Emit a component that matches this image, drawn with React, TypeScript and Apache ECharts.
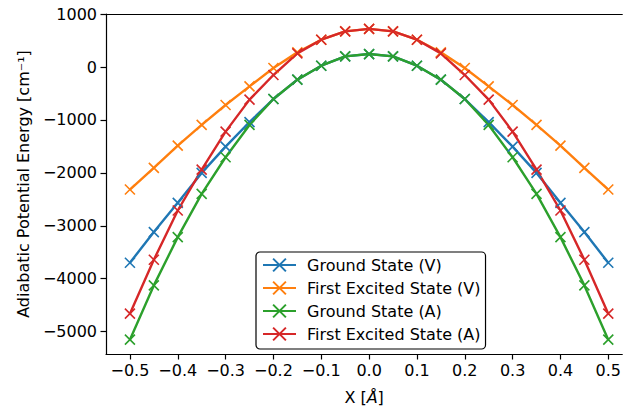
import React, { useEffect, useRef } from "react";
import * as echarts from "echarts";

const xValues = [-0.5, -0.45, -0.4, -0.35, -0.3, -0.25, -0.2, -0.15, -0.1, -0.05, 0, 0.05, 0.1, 0.15, 0.2, 0.25, 0.3, 0.35, 0.4, 0.45, 0.5];
const groundV = [-3698, -3119, -2566, -2000, -1503, -1040, -604, -239, 25, 201, 245, 201, 25, -239, -604, -1040, -1503, -2000, -2566, -3119, -3698];
const excitedV = [-2315, -1906, -1485, -1094, -717, -365, -19, 277, 516, 673, 720, 673, 516, 277, -19, -365, -717, -1094, -1485, -1906, -2315];
const groundA = [-5151, -4126, -3214, -2396, -1704, -1094, -604, -239, 25, 201, 245, 201, 25, -239, -604, -1094, -1704, -2396, -3214, -4126, -5151];
const excitedA = [-4660, -3642, -2711, -1938, -1220, -616, -151, 258, 516, 673, 720, 673, 516, 258, -151, -616, -1220, -1938, -2711, -3642, -4660];
const seriesNames = ["Ground State (V)", "First Excited State (V)", "Ground State (A)", "First Excited State (A)"];
const seriesColors = ["#1f77b4", "#ff7f0e", "#2ca02c", "#d62728"];
const xTicks = [-0.5, -0.4, -0.3, -0.2, -0.1, 0, 0.1, 0.2, 0.3, 0.4, 0.5];
const yTicks = [-5000, -4000, -3000, -2000, -1000, 0, 1000];

const FONT = "DejaVu Sans";
const FS = 16;
const X_MARK = "path://M0,0L10,10M10,0L0,10";
const X_MIN = -0.55;
const X_MAX = 0.5292;

const minus = (s: string) => s.replace("-", "\u2212");

export default function App() {
  const ref = useRef<HTMLDivElement>(null);
  useEffect(() => {
    if (!ref.current) return;
    const chart = echarts.init(ref.current, undefined, { renderer: "svg" });
    const all = [groundV, excitedV, groundA, excitedA];
    chart.setOption({
      animation: false,
      backgroundColor: "#ffffff",
      grid: {
        left: 106,
        top: 14,
        right: 0,
        bottom: 54,
        show: false,
        containLabel: false,
      },
      xAxis: [
        {
          type: "value",
          min: X_MIN,
          max: X_MAX,
          name: "X [{i|Å}]",
          nameLocation: "middle",
          nameGap: 35,
          nameTextStyle: {
            fontFamily: FONT,
            fontSize: FS,
            color: "#000",
            rich: { i: { fontFamily: FONT, fontSize: FS, fontStyle: "italic", color: "#000" } },
          },
          splitLine: { show: false },
          axisLine: { show: true, onZero: false, lineStyle: { color: "#000", width: 1.2 } },
          axisTick: { show: true, length: 5.5, customValues: xTicks, lineStyle: { color: "#000", width: 1.2 } },
          axisLabel: {
            customValues: xTicks,
            margin: 8,
            fontFamily: FONT,
            fontSize: FS,
            color: "#000",
            formatter: (v: number) => minus(v.toFixed(1)),
          },
        },
        {
          type: "value",
          position: "top",
          min: X_MIN,
          max: X_MAX,
          splitLine: { show: false },
          axisLine: { show: true, onZero: false, lineStyle: { color: "#000", width: 1.2 } },
          axisTick: { show: false },
          axisLabel: { show: false },
        },
      ],
      yAxis: {
        type: "value",
        min: -5422,
        max: 1002,
        name: "Adiabatic Potential Energy [cm\u207B\u00B9]",
        nameLocation: "middle",
        nameGap: 71,
        nameTextStyle: { fontFamily: FONT, fontSize: FS, color: "#000" },
        splitLine: { show: false },
        axisLine: { show: true, onZero: false, lineStyle: { color: "#000", width: 1.2 } },
        axisTick: { show: true, length: 5.5, customValues: yTicks, lineStyle: { color: "#000", width: 1.2 } },
        axisLabel: {
          customValues: yTicks,
          margin: 9,
          fontFamily: FONT,
          fontSize: FS,
          color: "#000",
          formatter: (v: number) => minus(String(v)),
        },
      },
      legend: {
        orient: "vertical",
        left: 256,
        top: 252,
        padding: [5, 5, 7, 6],
        itemGap: 7,
        itemWidth: 33,
        itemHeight: 16,
        backgroundColor: "#fff",
        borderColor: "#000",
        borderWidth: 1.2,
        borderRadius: 4,
        textStyle: { fontFamily: FONT, fontSize: FS, color: "#000", padding: [0, 0, 0, 6] },
        data: seriesNames,
      },
      series: seriesNames.map((name, i) => ({
        name,
        type: "line",
        xAxisIndex: 0,
        data: xValues.map((x, j) => [x, all[i][j]]),
        symbol: X_MARK,
        symbolSize: 10,
        showSymbol: true,
        lineStyle: { color: seriesColors[i], width: 2.4 },
        itemStyle: { color: seriesColors[i], borderColor: seriesColors[i], borderWidth: 1.6 },
        emphasis: { disabled: true },
      })),
    });
    return () => chart.dispose();
  }, []);
  return <div ref={ref} style={{ position: "fixed", left: 0, top: 0, width: 624, height: 410 }} />;
}
